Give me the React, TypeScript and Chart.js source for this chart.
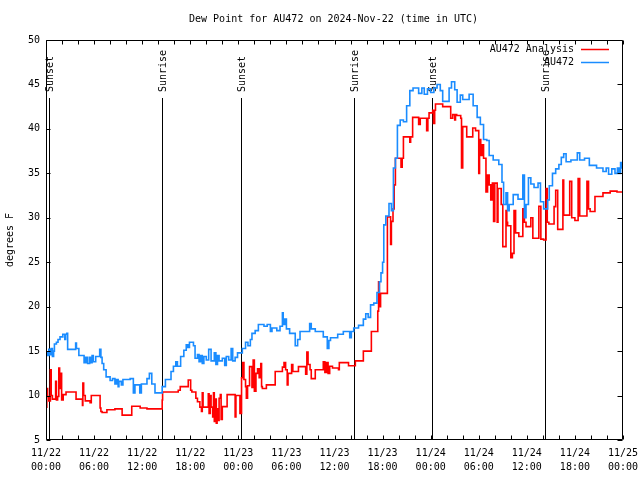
import React, { useEffect, useRef } from 'react';
import { Chart, registerables } from 'chart.js';

Chart.register(...registerables);

const TITLE = 'Dew Point for AU472 on 2024-Nov-22 (time in UTC)';
const Y_TITLE = 'degrees F';
const SERIES_NAMES = ['AU472 Analysis', 'AU472'];
const SERIES_COLORS = ['#ff0000', '#1a8cff'];

const X_TICK_DAYS = ['11/22', '11/22', '11/22', '11/22', '11/23', '11/23', '11/23', '11/23', '11/24', '11/24', '11/24', '11/24', '11/25'];
const X_TICK_TIMES = ['00:00', '06:00', '12:00', '18:00', '00:00', '06:00', '12:00', '18:00', '00:00', '06:00', '12:00', '18:00', '00:00'];

const SUN_HOURS = [0.4, 14.5, 24.35, 38.45, 48.2, 62.3];
const SUN_LABELS = ['Sunset', 'Sunrise', 'Sunset', 'Sunrise', 'Sunset', 'Sunrise'];

// AU472 observations (hours since 11/22 00:00 UTC, deg F)
const OBS_HOURS = [
  0.0, 0.2, 0.35, 0.5, 0.65, 0.8, 0.95, 1.05, 1.3, 1.5, 1.75, 2.1, 2.35, 2.45, 2.6, 2.7, 3.7, 3.8, 4.1, 4.75,
  4.85, 4.95, 5.1, 5.2, 5.45, 5.55, 5.75, 5.9, 6.2, 6.7, 6.85, 7.0, 7.2, 7.5, 8.0, 8.3, 8.6, 8.8, 9.0, 9.1,
  9.4, 9.6, 10.0, 10.5, 10.9, 11.1, 11.7, 11.9, 12.6, 12.9, 13.2, 13.6, 14.5, 14.9, 15.6, 15.9, 16.2, 16.4, 16.8, 17.2,
  17.5, 17.7, 17.9, 18.4, 18.6, 18.9, 19.1, 19.3, 19.5, 19.7, 20.0, 20.3, 20.6, 21.0, 21.2, 21.4, 21.6, 22.0, 22.3, 22.5,
  22.8, 23.1, 23.3, 23.6, 23.9, 24.25, 24.5, 24.9, 25.2, 25.5, 25.7, 26.1, 26.5, 27.2, 27.6, 28.0, 28.2, 28.8, 29.2, 29.5,
  29.6, 29.8, 30.0, 30.4, 31.1, 31.4, 31.7, 32.9, 33.1, 33.6, 34.6, 35.1, 35.3, 35.5, 36.4, 37.1, 37.9, 38.1, 38.4, 39.0,
  39.6, 39.9, 40.2, 40.5, 40.9, 41.3, 41.6, 41.8, 42.0, 42.15, 42.4, 42.8, 43.1, 43.35, 43.6, 43.85, 44.2, 44.6, 45.0, 45.4,
  45.8, 46.5, 46.9, 47.2, 47.6, 48.0, 48.4, 48.8, 49.2, 49.5, 50.3, 50.6, 51.0, 51.3, 51.7, 52.0, 52.8, 53.3, 53.8, 54.2,
  54.6, 55.0, 55.3, 55.8, 56.5, 56.9, 57.1, 57.4, 57.6, 57.8, 58.3, 58.9, 59.5, 59.7, 59.9, 60.2, 60.5, 60.9, 61.4, 61.7,
  62.1, 62.6, 62.8, 63.2, 63.6, 64.0, 64.3, 64.6, 64.9, 65.5, 66.3, 66.6, 67.2, 67.8, 68.7, 69.5, 69.9, 70.2, 70.6, 71.0,
  71.3, 71.5, 71.7, 71.9, 72.0,
];
const OBS_VALUES = [
  14.8, 14.5, 15.2, 14.6, 15.3, 14.4, 15.0, 15.8, 16.0, 16.3, 16.6, 16.9, 16.3, 16.9, 17.0, 15.2, 15.9, 15.3, 14.5, 13.7,
  14.3, 13.7, 14.3, 13.6, 14.3, 13.7, 14.5, 13.8, 14.4, 15.2, 14.3, 13.6, 12.9, 12.1, 11.7, 11.9, 11.3, 11.8, 11.0, 11.6,
  11.2, 11.8, 11.8, 11.9, 10.3, 11.2, 10.3, 11.3, 11.9, 12.5, 11.3, 10.3, 11.0, 11.8, 12.7, 13.3, 13.8, 13.3, 14.4, 15.1,
  15.7, 15.4, 16.0, 15.6, 14.2, 14.6, 13.8, 14.5, 13.6, 14.4, 14.0, 15.2, 13.9, 14.8, 13.5, 14.5, 13.9, 14.2, 13.4, 14.4,
  14.0, 15.3, 13.9, 14.3, 14.8, 14.8, 15.3, 16.0, 15.6, 16.3, 17.0, 17.3, 18.0, 17.8, 18.0, 17.2, 17.6, 17.3, 17.8, 19.3,
  18.0, 18.6, 17.5, 17.0, 15.6, 16.3, 17.2, 18.1, 17.5, 17.2, 16.6, 15.3, 16.2, 16.5, 16.9, 17.2, 16.5, 17.2, 17.6, 17.9,
  18.6, 19.2, 18.8, 20.2, 20.4, 21.6, 22.8, 23.8, 25.0, 29.2, 30.2, 31.6, 30.8, 35.6, 36.7, 40.4, 41.0, 40.8, 42.6, 44.3,
  44.6, 44.0, 44.6, 43.9, 44.5, 44.1, 44.6, 45.0, 44.3, 43.1, 44.6, 45.3, 44.4, 43.0, 43.8, 43.3, 43.9, 42.6, 41.3, 40.5,
  38.8, 38.7, 37.0, 36.5, 36.0, 34.0, 31.5, 32.8, 30.8, 31.5, 32.6, 32.1, 34.8, 30.0, 31.5, 34.5, 33.8, 33.4, 33.9, 31.8,
  31.0, 32.0, 33.6, 35.0, 35.5, 36.0, 36.8, 37.2, 36.3, 36.5, 37.3, 36.5, 36.7, 35.9, 35.6, 35.2, 35.6, 34.9, 35.5, 35.0,
  35.6, 35.0, 36.2, 35.6, 35.6,
];

// AU472 analysis
const ANA_HOURS = [
  0.0, 0.1, 0.2, 0.35, 0.55, 0.65, 0.8, 1.2, 1.3, 1.45, 1.6, 1.7, 1.85, 1.95, 2.15, 2.5, 3.75, 4.55, 4.6, 4.7,
  4.9, 5.5, 5.65, 6.75, 6.85, 7.0, 7.6, 8.6, 9.5, 10.7, 11.75, 12.6, 14.5, 14.55, 16.5, 16.75, 17.75, 18.05, 18.2, 18.7,
  18.9, 19.2, 19.4, 19.5, 19.6, 20.25, 20.35, 20.5, 20.6, 20.8, 20.9, 21.0, 21.1, 21.25, 21.35, 21.5, 21.6, 21.75, 21.85, 22.0,
  22.6, 23.6, 23.7, 24.2, 24.4, 24.55, 24.7, 24.9, 25.0, 25.15, 25.4, 25.7, 25.85, 26.0, 26.2, 26.4, 26.6, 26.8, 26.9, 27.0,
  27.5, 28.6, 29.5, 29.7, 29.9, 30.1, 30.2, 30.65, 30.8, 31.5, 32.4, 32.55, 32.7, 32.95, 33.1, 33.6, 34.6, 34.8, 35.0, 35.2,
  35.4, 35.75, 36.5, 36.6, 37.75, 38.6, 39.6, 40.6, 41.4, 41.5, 41.6, 41.75, 42.6, 43.0, 43.1, 43.3, 43.45, 43.6, 44.3, 44.45,
  44.6, 45.4, 45.5, 45.75, 46.5, 46.7, 47.5, 47.65, 47.8, 48.25, 48.35, 48.5, 48.6, 49.5, 50.5, 50.75, 51.0, 51.1, 51.25, 51.75,
  51.85, 52.0, 52.5, 53.25, 53.6, 54.0, 54.1, 54.25, 54.4, 54.6, 54.9, 55.1, 55.3, 55.5, 55.7, 55.85, 56.0, 56.3, 56.4, 56.8,
  57.0, 57.4, 57.5, 57.6, 58.0, 58.2, 58.4, 58.6, 59.0, 59.5, 59.7, 59.9, 60.5, 60.75, 61.5, 61.75, 62.1, 62.4, 62.55, 62.75,
  63.4, 63.6, 63.85, 64.5, 64.6, 65.35, 65.6, 66.0, 66.4, 66.6, 67.5, 67.7, 67.9, 68.5, 69.5, 70.4, 71.25, 72.0,
];
const ANA_VALUES = [
  8.7, 10.8, 9.9, 9.4, 12.9, 10.0, 9.6, 11.6, 9.5, 9.9, 13.1, 10.8, 12.5, 9.5, 10.1, 10.4, 9.6, 8.9, 11.4, 10.0,
  9.4, 9.2, 10.0, 8.6, 8.2, 8.1, 8.4, 8.5, 7.8, 8.8, 8.6, 8.5, 9.5, 10.4, 10.6, 11.0, 11.75, 10.6, 10.4, 9.7,
  9.3, 8.7, 8.2, 10.3, 8.7, 10.2, 8.0, 10.0, 8.7, 7.6, 10.3, 7.1, 9.6, 6.9, 8.5, 7.2, 9.7, 10.1, 7.3, 8.75,
  10.1, 7.6, 10.0, 8.0, 12.0, 13.7, 11.8, 11.0, 9.7, 11.1, 13.25, 10.9, 14.0, 10.5, 12.5, 13.0, 12.0, 13.6, 11.0, 10.8,
  11.2, 12.7, 13.2, 13.7, 12.9, 11.2, 12.5, 13.5, 12.7, 13.25, 12.4, 14.9, 13.5, 12.9, 11.9, 12.9, 13.8, 12.6, 13.7, 12.5,
  13.3, 13.1, 12.9, 13.7, 13.35, 13.9, 15.0, 17.2, 19.5, 22.8, 20.0, 21.5, 30.1, 27.0, 29.6, 31.0, 33.7, 36.7, 35.7, 36.7,
  39.1, 38.5, 39.1, 41.3, 40.5, 41.2, 39.8, 41.2, 41.8, 42.1, 40.6, 42.1, 42.8, 42.5, 41.2, 41.6, 41.0, 41.6, 41.5, 41.2,
  35.6, 40.25, 39.1, 40.1, 39.8, 35.0, 38.8, 37.0, 38.2, 36.7, 32.9, 34.8, 33.7, 32.0, 33.9, 29.6, 33.9, 29.5, 33.3, 31.5,
  26.75, 30.8, 29.5, 29.1, 25.5, 26.0, 30.8, 28.3, 27.9, 31.0, 29.5, 29.0, 30.0, 27.7, 31.3, 27.6, 27.5, 33.3, 29.5, 29.3,
  31.25, 33.1, 28.7, 34.25, 30.3, 34.1, 30.0, 29.7, 34.4, 30.2, 34.1, 31.0, 30.7, 32.4, 32.8, 33.0, 32.9, 32.9,
];

const X_MIN = 0;
const X_MAX = 72;
const X_STEP = 6;
const X_MINOR_STEP = 2;
const Y_MIN = 5;
const Y_MAX = 50;
const Y_STEP = 5;

const FONT_FAMILY = '"DejaVu Sans Mono", "Liberation Mono", monospace';
const FONT = `10px ${FONT_FAMILY}`;

function toPoints(xs: number[], ys: number[]) {
  return xs.map((x, i) => ({ x, y: ys[i] }));
}

const decorPlugin = {
  id: 'decor',
  beforeDatasetsDraw(chart: any) {
    const { ctx, chartArea: a, scales } = chart;
    const xs = scales.x;
    ctx.save();
    ctx.strokeStyle = '#000';
    ctx.lineWidth = 1;
    ctx.fillStyle = '#000';
    ctx.font = FONT;
    SUN_HOURS.forEach((h, i) => {
      const px = Math.round(xs.getPixelForValue(h)) + 0.5;
      ctx.beginPath();
      ctx.moveTo(px, a.top + 58);
      ctx.lineTo(px, a.bottom);
      ctx.stroke();
      ctx.save();
      ctx.translate(px + 1, a.top + 52);
      ctx.rotate(-Math.PI / 2);
      ctx.textAlign = 'left';
      ctx.textBaseline = 'middle';
      ctx.fillText(SUN_LABELS[i], 0, 0);
      ctx.restore();
    });
    ctx.restore();
  },
  afterDatasetsDraw(chart: any) {
    const { ctx, chartArea: a, scales } = chart;
    const xs = scales.x;
    const ys = scales.y;
    ctx.save();
    ctx.strokeStyle = '#000';
    ctx.lineWidth = 1;
    const L = Math.round(a.left) + 0.5;
    const R = Math.round(a.right) - 0.5;
    const T = Math.round(a.top) + 0.5;
    const B = Math.round(a.bottom) - 0.5;
    ctx.beginPath();
    ctx.rect(L, T, R - L, B - T);
    for (let v = X_MIN; v <= X_MAX; v += X_MINOR_STEP) {
      const px = Math.round(xs.getPixelForValue(v)) + 0.5;
      ctx.moveTo(px, B);
      ctx.lineTo(px, B - 4);
      ctx.moveTo(px, T);
      ctx.lineTo(px, T + 4);
    }
    for (let v = Y_MIN; v <= Y_MAX; v += Y_STEP) {
      const py = Math.round(ys.getPixelForValue(v)) + 0.5;
      ctx.moveTo(L, py);
      ctx.lineTo(L + 4, py);
      ctx.moveTo(R, py);
      ctx.lineTo(R - 5, py);
    }
    ctx.stroke();

    // title
    ctx.fillStyle = '#000';
    ctx.font = FONT;
    ctx.textAlign = 'center';
    ctx.textBaseline = 'middle';
    ctx.fillText(TITLE, (a.left + a.right) / 2 - 1, 19);

    // legend
    ctx.textAlign = 'right';
    SERIES_NAMES.forEach((name, i) => {
      const y = a.top + 9.5 + i * 13;
      ctx.fillStyle = '#000';
      ctx.fillText(name, a.right - 49, y);
      ctx.strokeStyle = SERIES_COLORS[i];
      ctx.lineWidth = 1.5;
      ctx.beginPath();
      ctx.moveTo(a.right - 42, y);
      ctx.lineTo(a.right - 14, y);
      ctx.stroke();
    });
    ctx.restore();
  },
};

export default function App() {
  const ref = useRef<HTMLCanvasElement | null>(null);
  useEffect(() => {
    if (!ref.current) return;
    const chart = new Chart(ref.current, {
      type: 'line',
      data: {
        datasets: [
          {
            label: SERIES_NAMES[1],
            data: toPoints(OBS_HOURS, OBS_VALUES),
            borderColor: SERIES_COLORS[1],
            borderWidth: 1.6,
            pointRadius: 0,
            stepped: 'before',
            fill: false,
          },
          {
            label: SERIES_NAMES[0],
            data: toPoints(ANA_HOURS, ANA_VALUES),
            borderColor: SERIES_COLORS[0],
            borderWidth: 1.6,
            pointRadius: 0,
            stepped: 'before',
            fill: false,
          },
        ],
      },
      options: {
        animation: false,
        responsive: false,
        devicePixelRatio: 1,
        layout: { padding: { top: 40, right: 17, left: 0, bottom: 0 } },
        plugins: {
          legend: { display: false },
          title: { display: false },
          tooltip: { enabled: false },
        },
        scales: {
          x: {
            type: 'linear',
            min: X_MIN,
            max: X_MAX,
            grid: { display: false, drawTicks: false },
            border: { display: false },
            afterFit: (s: any) => {
              s.height = 40;
              s.paddingLeft = 0;
              s.paddingRight = 0;
            },
            ticks: {
              stepSize: X_STEP,
              autoSkip: false,
              maxRotation: 0,
              padding: 7,
              color: '#000',
              font: { family: FONT_FAMILY, size: 10, lineHeight: 1.37 },
              callback: (v: any) => {
                const i = Math.round(Number(v) / X_STEP);
                return [X_TICK_DAYS[i], X_TICK_TIMES[i]];
              },
            },
          },
          y: {
            type: 'linear',
            min: Y_MIN,
            max: Y_MAX,
            grid: { display: false, drawTicks: false },
            border: { display: false },
            afterFit: (s: any) => {
              s.width = 46;
              s.paddingTop = 0;
              s.paddingBottom = 0;
            },
            title: {
              display: true,
              text: Y_TITLE,
              color: '#000',
              font: { family: FONT_FAMILY, size: 10, lineHeight: 1.2 },
              padding: { top: 4, bottom: 0 },
            },
            ticks: {
              stepSize: Y_STEP,
              padding: 6,
              color: '#000',
              font: { family: FONT_FAMILY, size: 10 },
            },
          },
        },
      },
      plugins: [decorPlugin],
    });
    return () => chart.destroy();
  }, []);
  return (
    <div style={{ position: 'absolute', left: 0, top: 0, width: 640, height: 480, background: '#fff' }}>
      <canvas ref={ref} width={640} height={480} />
    </div>
  );
}
